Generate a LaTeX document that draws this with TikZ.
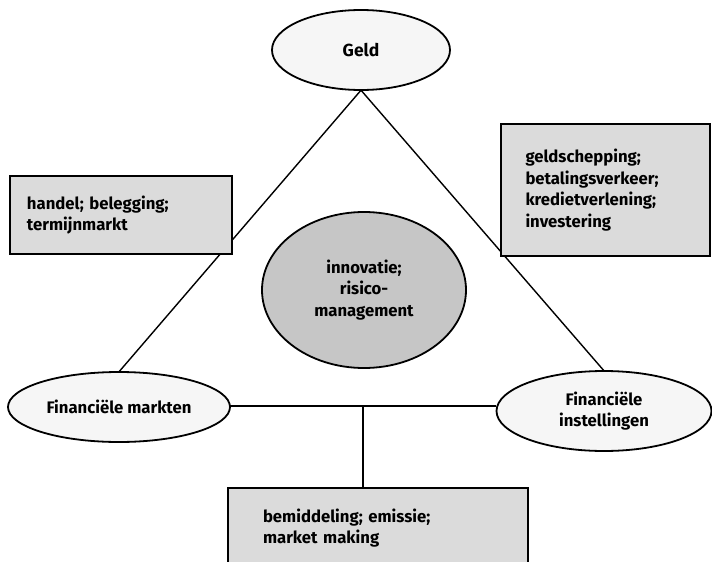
\documentclass[tikz,border=0pt]{standalone}
\usepackage{fontspec}
\setmainfont{Fira Sans}
\usetikzlibrary{shapes.geometric}
\begin{document}
\begin{tikzpicture}[x=1pt,y=-1pt,
  lbl/.style={font=\fontsize{16.7}{21.8}\selectfont\bfseries},
  oval/.style={ellipse, draw, line width=1.8pt, fill=gray!7, inner sep=0pt, lbl, align=center},
  core/.style={ellipse, draw, line width=1.8pt, fill=gray!45, inner sep=0pt, lbl, align=center},
  infobox/.style={rectangle, draw, line width=1.6pt, fill=gray!28, lbl, align=left, inner ysep=0pt},
  link/.style={line width=1.4pt}]
\useasboundingbox (0,0) rectangle (712,562);
\fill[white] (0,0) rectangle (712,562);
% geometry of the ovals (drawn later on top of the connectors)
\path (361,50) coordinate (geldc) (119,407) coordinate (fmc) (604,411) coordinate (fic);
\node[ellipse, minimum width=178pt, minimum height=80pt, inner sep=0pt] (geld) at (geldc) {};
\node[ellipse, minimum width=222pt, minimum height=70pt, inner sep=0pt] (fm) at (fmc) {};
\node[ellipse, minimum width=215pt, minimum height=80pt, inner sep=0pt] (fi) at (fic) {};
\coordinate (j) at (363,406);
% connectors
\draw[link] (geld.south) -- (fm.north);
\draw[link] (geld.south) -- (fi.north);
\draw[link] (fm.east |- j) -- (fi.west |- j);
% boxes
\node[infobox, minimum width=222pt, minimum height=78pt, text width=188pt, inner xsep=17pt] (lb) at (121,215) {handel; belegging;\\termijnmarkt};
\node[infobox, minimum width=209pt, minimum height=132pt, text width=160pt, inner xsep=24.5pt] (rb) at (605.5,190) {geldschepping;\\betalingsverkeer;\\kredietverlening;\\investering};
\node[infobox, minimum width=300pt, minimum height=80pt, text width=230pt, inner xsep=35pt] (bb) at (378,528) {bemiddeling; emissie;\\market making};
\draw[link] (j) -- (j |- bb.north);
\node[core, minimum width=204pt, minimum height=156pt] (core) at (364,290) {innovatie;\\risico-\\management};
% ovals on top of connectors
\node[oval, minimum width=178pt, minimum height=80pt] (geldlbl) at (geldc) {\fontsize{17.5}{20}\selectfont Geld};
\node[oval, minimum width=222pt, minimum height=70pt] (fmlbl) at (fmc) {Financiële markten};
\node[oval, minimum width=215pt, minimum height=80pt] (filbl) at (fic) {Financiële\\instellingen};
\end{tikzpicture}
\end{document}
